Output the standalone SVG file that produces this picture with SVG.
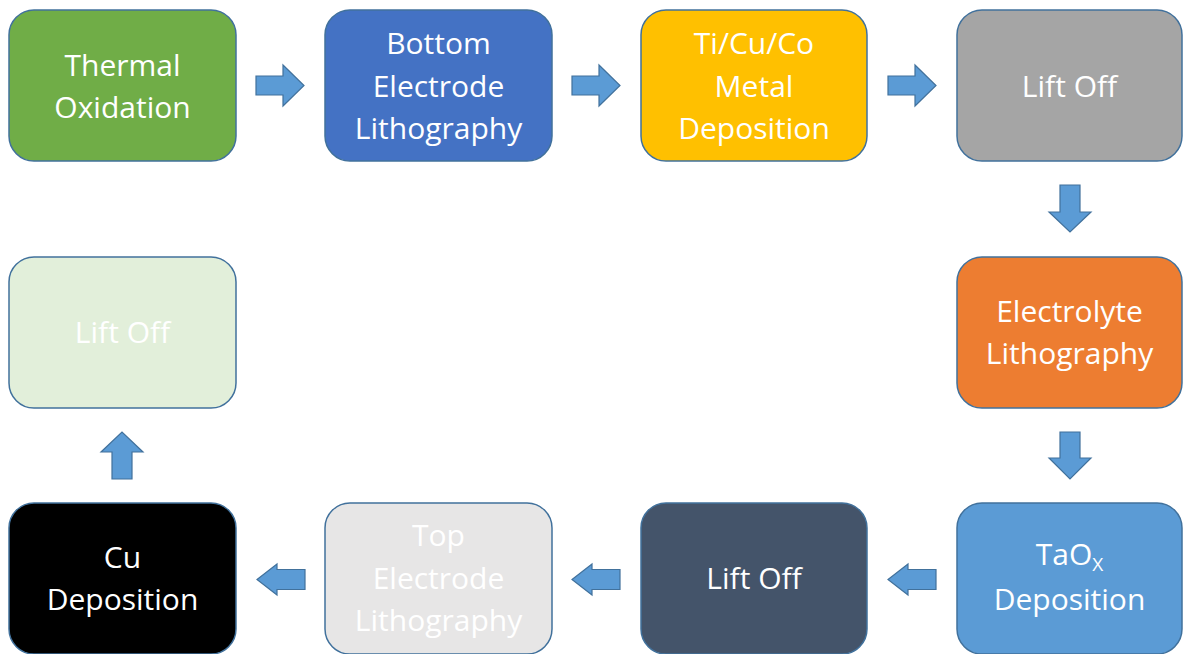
<svg xmlns="http://www.w3.org/2000/svg" width="1184" height="654" viewBox="0 0 1184 654">
  <style>
    .box { stroke: #41719C; stroke-width: 1.5; }
    .lbl { font-family: "Open Sans", "Liberation Sans", sans-serif; font-size: 30px; fill: #FFFFFF; text-anchor: middle; }
    .arrow { fill: #5B9BD5; stroke: #41719C; stroke-width: 1.2; stroke-linejoin: miter; }
  </style>
  <rect x="0" y="0" width="1184" height="654" fill="#FFFFFF"/>

  <g id="connectors">
    <polygon class="arrow" points="256,76 283,76 283,65 304,85.5 283,106 283,95 256,95"/>
    <polygon class="arrow" points="572,76 599,76 599,65 620,85.5 599,106 599,95 572,95"/>
    <polygon class="arrow" points="888,76 915,76 915,65 936,85.5 915,106 915,95 888,95"/>
    <polygon class="arrow" points="1060,185 1080,185 1080,212 1091,212 1070,232 1049,212 1060,212"/>
    <polygon class="arrow" points="1060,432 1080,432 1080,458 1091,458 1070,479 1049,458 1060,458"/>
    <polygon class="arrow" points="936,569.5 908,569.5 908,564 888,579.5 908,595 908,589.5 936,589.5"/>
    <polygon class="arrow" points="620,569.5 592,569.5 592,564 572,579.5 592,595 592,589.5 620,589.5"/>
    <polygon class="arrow" points="305,569.5 277,569.5 277,564 257,579.5 277,595 277,589.5 305,589.5"/>
    <polygon class="arrow" points="112,479 132,479 132,452 143,452 122,432 101,452 112,452"/>
  </g>

  <g id="n1">
    <rect class="box" x="9" y="10" width="227" height="151" rx="25" fill="#70AD47"/>
    <text class="lbl" x="122.5" y="76">Thermal</text>
    <text class="lbl" x="122.5" y="118">Oxidation</text>
  </g>
  <g id="n2">
    <rect class="box" x="325" y="10" width="227" height="151" rx="25" fill="#4472C4"/>
    <text class="lbl" x="438.5" y="54">Bottom</text>
    <text class="lbl" x="438.5" y="97">Electrode</text>
    <text class="lbl" x="438.5" y="139">Lithography</text>
  </g>
  <g id="n3">
    <rect class="box" x="641" y="10" width="226" height="151" rx="25" fill="#FFC000"/>
    <text class="lbl" x="754" y="54">Ti/Cu/Co</text>
    <text class="lbl" x="754" y="97">Metal</text>
    <text class="lbl" x="754" y="139">Deposition</text>
  </g>
  <g id="n4">
    <rect class="box" x="957" y="10" width="225" height="151" rx="25" fill="#A5A5A5"/>
    <text class="lbl" x="1069.5" y="97">Lift Off</text>
  </g>
  <g id="n5">
    <rect class="box" x="957" y="257" width="225" height="151" rx="25" fill="#ED7D31"/>
    <text class="lbl" x="1069.5" y="322">Electrolyte</text>
    <text class="lbl" x="1069.5" y="364">Lithography</text>
  </g>
  <g id="n6">
    <rect class="box" x="957" y="503" width="225" height="151" rx="25" fill="#5B9BD5"/>
    <text class="lbl" x="1069.5" y="565">TaO<tspan font-size="19" dy="6">X</tspan></text>
    <text class="lbl" x="1069.5" y="610">Deposition</text>
  </g>
  <g id="n7">
    <rect class="box" x="641" y="503" width="226" height="151" rx="25" fill="#44546A"/>
    <text class="lbl" x="754" y="589">Lift Off</text>
  </g>
  <g id="n8">
    <rect class="box" x="325" y="503" width="227" height="151" rx="25" fill="#E7E6E6"/>
    <text class="lbl" x="438.5" y="546">Top</text>
    <text class="lbl" x="438.5" y="589">Electrode</text>
    <text class="lbl" x="438.5" y="631">Lithography</text>
  </g>
  <g id="n9">
    <rect class="box" x="9" y="503" width="227" height="151" rx="25" fill="#000000"/>
    <text class="lbl" x="122.5" y="568">Cu</text>
    <text class="lbl" x="122.5" y="610">Deposition</text>
  </g>
  <g id="n10">
    <rect class="box" x="9" y="257" width="227" height="151" rx="25" fill="#E2EFDA"/>
    <text class="lbl" x="122.5" y="343">Lift Off</text>
  </g>
</svg>
